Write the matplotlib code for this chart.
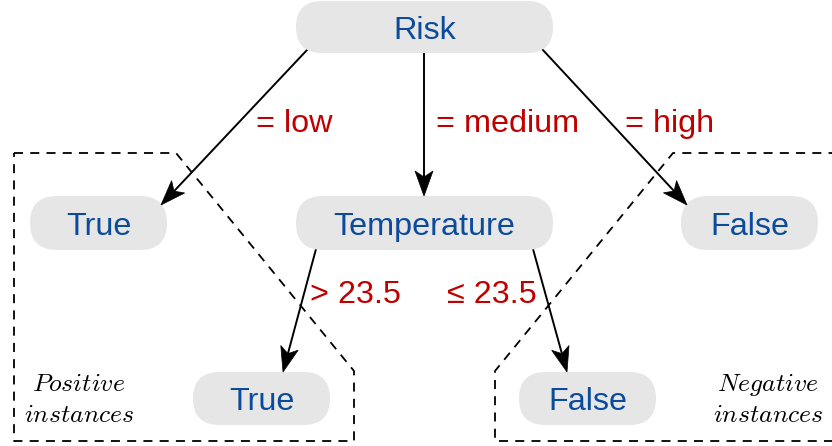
import numpy as np
import matplotlib
matplotlib.use("Agg")
import matplotlib.pyplot as plt
from matplotlib.patches import FancyBboxPatch, Polygon

plt.rcParams["mathtext.fontset"] = "cm"

# ---------- diagram data (pixel space, y down) ----------
node_labels = ["Risk", "True", "Temperature", "False", "True", "False"]
node_x0 = [296, 30, 296, 681, 193, 519]
node_x1 = [553, 167, 553, 818, 330, 656]
node_y0 = [1, 196, 196, 196, 372, 372]
node_y1 = [53, 250, 250, 250, 425, 425]

edge_from = [(307, 50), (424, 54), (542, 49), (316, 249), (533, 249)]
edge_to = [(161, 205), (424, 196), (687, 205), (283, 372), (567, 372)]

edge_labels = ["= low", "= medium", "= high", "> 23.5", "≤ 23.5"]
edge_lab_x = [256, 436, 625, 310, 447]
edge_lab_y = [132, 132, 132, 303, 303]

pos_box_x = [14, 176, 354, 354, 14, 14]
pos_box_y = [153, 153, 371, 441, 441, 153]
neg_box_x = [860, 495, 495, 673, 860]
neg_box_y = [441, 441, 371, 153, 153]

group_labels = [("Positive", "instances"), ("Negative", "instances")]
group_x = [79, 768]

BLUE = "#0b4b9c"
RED = "#c00000"
PILL = "#e6e6e6"

fig = plt.figure(figsize=(8.32, 4.46), dpi=100)
ax = fig.add_axes([0, 0, 1, 1])
ax.set_xlim(0, 832); ax.set_ylim(446, 0); ax.axis("off")

# dashed group outlines
ax.plot(pos_box_x, pos_box_y, color="black", lw=1.3, ls=(0, (5, 4)))
ax.plot(neg_box_x, neg_box_y, color="black", lw=1.3, ls=(0, (5, 4)))

# nodes
for lab, x0, x1, y0, y1 in zip(node_labels, node_x0, node_x1, node_y0, node_y1):
    h = y1 - y0
    ax.add_patch(FancyBboxPatch((x0, y0), x1 - x0, h,
                                boxstyle=f"round,pad=0,rounding_size={h/2}",
                                fc=PILL, ec="none", zorder=2))
    ax.text((x0 + x1) / 2, y0 + h / 2 + 12, lab, color=BLUE, fontsize=23.3,
            family="Liberation Sans", ha="center", va="baseline", zorder=3)

# edges with stealth heads
L, W, inset = 25, 9, 6
for (xa, ya), (xb, yb) in zip(edge_from, edge_to):
    d = np.array([xb - xa, yb - ya], float); d /= np.hypot(*d)
    n = np.array([-d[1], d[0]])
    tip = np.array([xb, yb], float)
    back = tip - L * d
    ax.plot([xa, (back + inset * d)[0]], [ya, (back + inset * d)[1]], color="black", lw=1.4, zorder=1)
    head = [tip, back + W * n, back + inset * d, back - W * n]
    ax.add_patch(Polygon(head, closed=True, fc="black", ec="black", lw=0.5, zorder=4))

for lab, x, y in zip(edge_labels, edge_lab_x, edge_lab_y):
    ax.text(x, y, lab, color=RED, fontsize=23.3, family="Liberation Sans",
            ha="left", va="baseline")

for (l1, l2), x in zip(group_labels, group_x):
    ax.text(x, 391, r"$\mathit{%s}$" % l1, fontsize=18.5, ha="center", va="baseline")
    ax.text(x, 422, r"$\mathit{%s}$" % l2, fontsize=18.5, ha="center", va="baseline")

fig.savefig("out.png", dpi=100)
